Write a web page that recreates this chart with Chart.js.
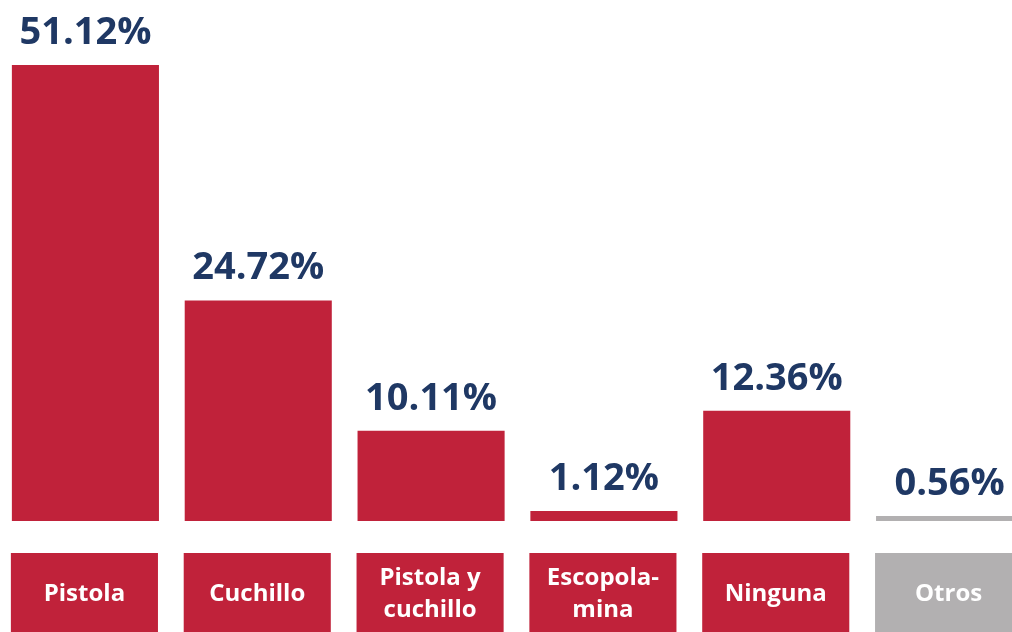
<!DOCTYPE html>
<html>
<head>
<meta charset="utf-8">
<script src="https://cdn.jsdelivr.net/npm/chart.js@4"></script>
<style>
  html, body { margin: 0; padding: 0; background: #fff; overflow: hidden; }
  #wrap { position: absolute; left: -1px; top: 0; width: 1037px; height: 632px; }
</style>
</head>
<body>
<div id="wrap"><canvas id="chart"></canvas></div>
<script>
// categorias y valores (%)
const categorias = [["Pistola"], ["Cuchillo"], ["Pistola y", "cuchillo"], ["Escopola-", "mina"], ["Ninguna"], ["Otros"]];
const valores = [51.12, 24.72, 10.11, 1.12, 12.36, 0.56];
const colores = ["#C0223A", "#C0223A", "#C0223A", "#C0223A", "#C0223A", "#B2B0B1"];

// dibuja el porcentaje encima de cada barra y la caja con el nombre debajo
const etiquetas = {
    id: "etiquetas",
    afterDatasetsDraw(chart) {
        const ctx = chart.ctx;
        const meta = chart.getDatasetMeta(0);
        const area = chart.chartArea;
        ctx.save();
        meta.data.forEach((bar, i) => {
            // valor
            ctx.fillStyle = "#1F3864";
            ctx.font = "bold 38px 'Open Sans'";
            ctx.textAlign = "center";
            ctx.textBaseline = "alphabetic";
            ctx.fillText(valores[i].toFixed(2) + "%", bar.x, bar.y - 21);

            // caja de la categoria
            const left = bar.x - bar.width / 2 - 1;
            ctx.fillStyle = colores[i];
            ctx.fillRect(left, area.bottom + 32, bar.width, chart.height - area.bottom - 32);

            ctx.fillStyle = "#ffffff";
            ctx.font = "bold 24px 'Open Sans'";
            ctx.textBaseline = "middle";
            const lineas = categorias[i];
            const cy = area.bottom + 73;
            lineas.forEach((t, j) => {
                ctx.fillText(t, bar.x - 1, cy + (j - (lineas.length - 1) / 2) * 32);
            });
        });
        ctx.restore();
    }
};

new Chart(document.getElementById("chart"), {
    type: "bar",
    data: {
        labels: categorias.map(c => c.join(" ")),
        datasets: [{
            data: valores,
            backgroundColor: colores,
            borderWidth: 0,
            barPercentage: 1,
            categoryPercentage: 0.851
        }]
    },
    options: {
        responsive: true,
        maintainAspectRatio: false,
        animation: false,
        layout: { padding: { top: 65, bottom: 111, left: 0, right: 0 } },
        plugins: {
            legend: { display: false },
            tooltip: { enabled: false }
        },
        scales: {
            x: { display: false },
            y: { display: false, beginAtZero: true, max: Math.max(...valores) }
        }
    },
    plugins: [etiquetas]
});
</script>
</body>
</html>
